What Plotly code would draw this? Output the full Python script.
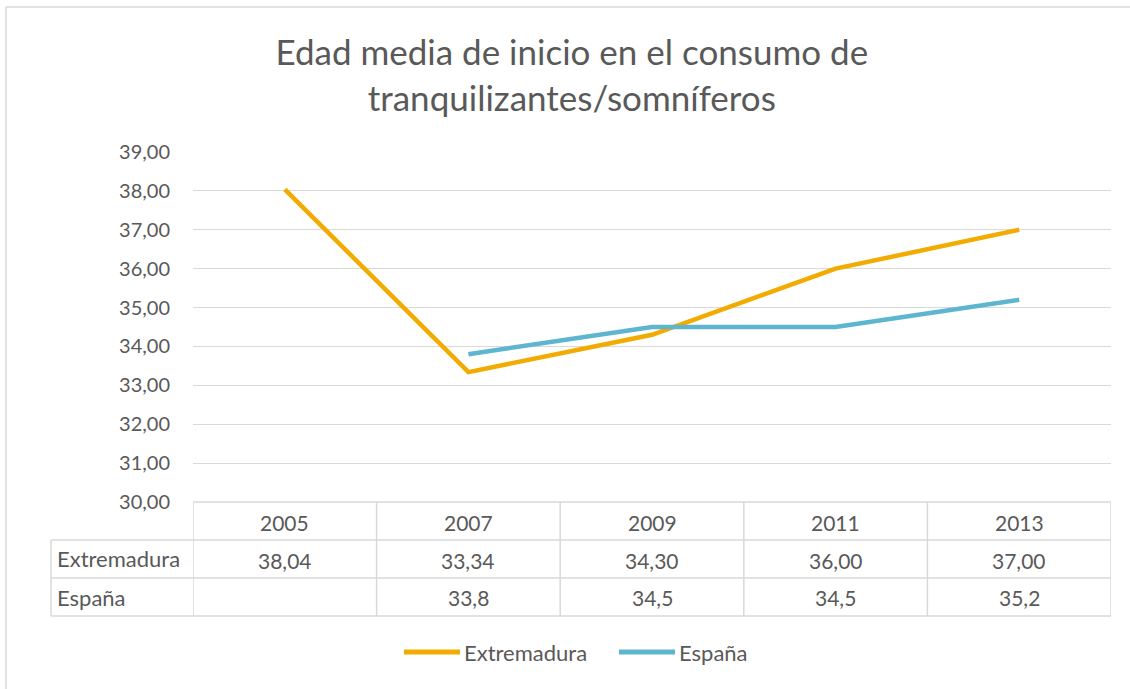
import plotly.graph_objects as go

years = ["2005", "2007", "2009", "2011", "2013"]
extremadura = [38.04, 33.34, 34.30, 36.00, 37.00]
espana = [None, 33.8, 34.5, 34.5, 35.2]
series_names = ["Extremadura", "España"]
title_text = "Edad media de inicio en el consumo de<br>tranquilizantes/somníferos"

COL_EXT = "#F2AB00"
COL_ESP = "#5DB5CF"
TXT = "#595959"
GRID = "#D9D9D9"
FONT = "Lato"

W, H = 1130, 689
L, R, T, B = 193, 1111, 152, 502  # plot area in pixels


def px2x(px):
    return (px - L) / (R - L)


def py2y(py):
    return (B - py) / (B - T)


xs = list(range(len(years)))

fig = go.Figure()
fig.add_trace(go.Scatter(x=xs, y=extremadura, mode="lines", name=series_names[0],
                         line=dict(color=COL_EXT, width=4.5), showlegend=False,
                         hoverinfo="skip"))
fig.add_trace(go.Scatter(x=xs, y=espana, mode="lines", name=series_names[1],
                         line=dict(color=COL_ESP, width=4.5), showlegend=False,
                         connectgaps=False, hoverinfo="skip"))

shapes = []
annotations = []
line_style = dict(color=GRID, width=1.5)

# chart border (top and left)
shapes.append(dict(type="line", xref="paper", yref="paper", x0=px2x(6), x1=px2x(1130),
                   y0=py2y(7), y1=py2y(7), line=dict(color=GRID, width=1.5)))
shapes.append(dict(type="line", xref="paper", yref="paper", x0=px2x(6), x1=px2x(6),
                   y0=py2y(7), y1=py2y(689), line=dict(color=GRID, width=1.5)))

# data table
row_tops = [502, 540, 578, 616]
shapes.append(dict(type="line", xref="paper", yref="paper", x0=0, x1=1,
                   y0=py2y(502), y1=py2y(502), line=line_style))
for py in row_tops[1:]:
    shapes.append(dict(type="line", xref="paper", yref="paper", x0=px2x(51), x1=1,
                       y0=py2y(py), y1=py2y(py), line=line_style))
shapes.append(dict(type="line", xref="paper", yref="paper", x0=px2x(51), x1=px2x(51),
                   y0=py2y(540), y1=py2y(616), line=line_style))
for i in range(len(years) + 1):
    shapes.append(dict(type="line", xref="x", yref="paper", x0=i - 0.5, x1=i - 0.5,
                       y0=py2y(502), y1=py2y(616), line=line_style))

cell_font = dict(family=FONT, size=21, color=TXT)
label_font = dict(family=FONT, size=22, color=TXT)
row_centers = [522, 560, 597]
for i, yr in enumerate(years):
    annotations.append(dict(x=i, y=py2y(row_centers[0]), xref="x", yref="paper",
                            text=yr, showarrow=False, font=cell_font,
                            xanchor="center", yanchor="middle"))
    v = extremadura[i]
    if v is not None:
        annotations.append(dict(x=i, y=py2y(row_centers[1]), xref="x", yref="paper",
                                text=f"{v:.2f}".replace(".", ","), showarrow=False,
                                font=cell_font, xanchor="center", yanchor="middle"))
    v = espana[i]
    if v is not None:
        annotations.append(dict(x=i, y=py2y(row_centers[2]), xref="x", yref="paper",
                                text=f"{v:.1f}".replace(".", ","), showarrow=False,
                                font=cell_font, xanchor="center", yanchor="middle"))
for name, rc in zip(series_names, [558, 597]):
    annotations.append(dict(x=px2x(55), y=py2y(rc), xref="paper", yref="paper",
                            text=name, showarrow=False, font=label_font,
                            xanchor="left", yanchor="middle"))

# legend
leg_y = py2y(652)
for name, col, x0 in zip(series_names, [COL_EXT, COL_ESP], [404, 619]):
    shapes.append(dict(type="line", xref="paper", yref="paper", x0=px2x(x0), x1=px2x(x0 + 56),
                       y0=leg_y, y1=leg_y, line=dict(color=col, width=5)))
    annotations.append(dict(x=px2x(x0 + 58), y=leg_y, xref="paper", yref="paper",
                            text=name, showarrow=False, font=label_font,
                            xanchor="left", yanchor="middle"))

fig.update_layout(
    width=W, height=H,
    margin=dict(l=L, r=W - R, t=T, b=H - B),
    paper_bgcolor="white", plot_bgcolor="white",
    separators=",.",
    title=dict(text=title_text, x=0.506, xanchor="center", y=1 - 65 / H, yanchor="middle",
               font=dict(family=FONT, size=35, color=TXT)),
    xaxis=dict(range=[-0.5, len(years) - 0.5], showticklabels=False, showgrid=False,
               zeroline=False, showline=False, fixedrange=True),
    yaxis=dict(range=[30, 39], dtick=1, tickformat=".2f", showgrid=True, gridcolor=GRID,
               gridwidth=1.3, zeroline=False, showline=False, ticks="",
               ticklabelstandoff=22,
               tickfont=dict(family=FONT, size=20, color=TXT), fixedrange=True),
    shapes=shapes,
    annotations=annotations,
    showlegend=False,
)

fig.write_html("out.html", config={"displayModeBar": False},
               post_script="document.body.style.margin='0';")
